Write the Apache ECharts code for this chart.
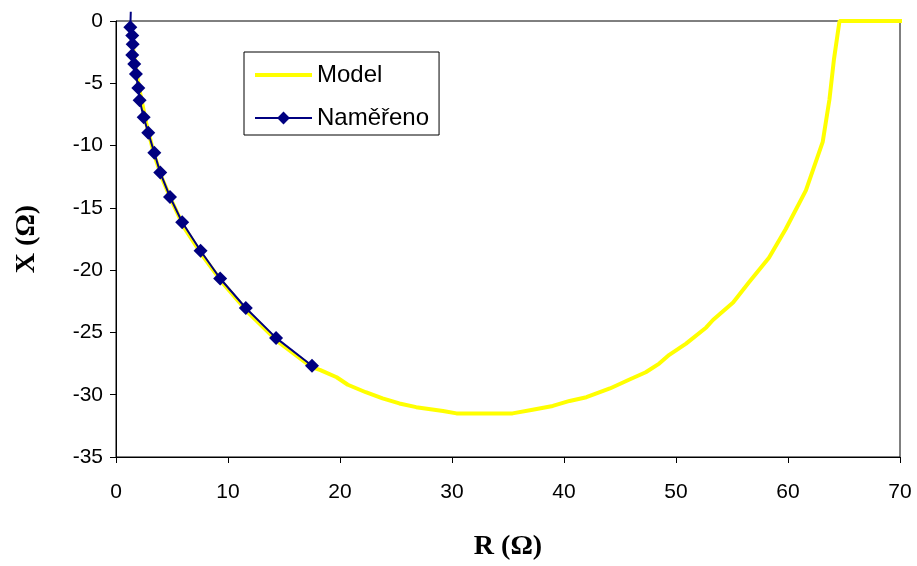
<!DOCTYPE html>
<html>
<head>
<meta charset="utf-8">
<script src="https://cdn.jsdelivr.net/npm/echarts@6/dist/echarts.min.js"></script>
<style>html,body{margin:0;padding:0;background:#fff}#c{width:917px;height:566px}</style>
</head>
<body>
<div id="c"></div>
<script>
// Model curve (R, X)
const modelR = [1.25, 1.5, 1.8, 2.2, 2.7, 3.4, 4.1, 5.0, 6.1, 7.7, 9.5, 11.8, 14.4, 17.5, 18.2, 19.7, 20.7, 22.3, 23.8, 25.3, 26.8, 29.2, 30.4, 35.4, 37.2, 39.0, 40.5, 42.0, 43.2, 44.1, 45.8, 47.3, 48.5, 49.4, 50.9, 52.7, 53.3, 55.1, 56.5, 58.3, 59.8, 61.6, 63.1, 63.7, 64.1, 64.6, 70.6];
const modelX = [-0.4, -2.0, -4.0, -6.0, -8.2, -10.7, -12.6, -14.5, -16.6, -18.8, -21.0, -23.4, -25.7, -27.8, -28.0, -28.6, -29.2, -29.8, -30.3, -30.7, -31.0, -31.3, -31.5, -31.5, -31.2, -30.9, -30.5, -30.2, -29.8, -29.5, -28.8, -28.2, -27.5, -26.8, -25.9, -24.6, -24.0, -22.6, -21.0, -19.0, -16.7, -13.6, -9.7, -6.3, -3.1, 0, 0];
// Measured (Naměřeno)
const measR = [1.32, 1.28, 1.45, 1.49, 1.45, 1.63, 1.78, 1.99, 2.11, 2.47, 2.88, 3.42, 3.95, 4.82, 5.91, 7.55, 9.30, 11.59, 14.29, 17.50];
const measX = [0.75, -0.50, -1.17, -1.86, -2.72, -3.46, -4.26, -5.38, -6.37, -7.73, -8.97, -10.57, -12.17, -14.12, -16.16, -18.44, -20.67, -23.04, -25.44, -27.67];
const xTicks = [0, 10, 20, 30, 40, 50, 60, 70];
const yTicks = [0, -5, -10, -15, -20, -25, -30, -35];

const modelData = modelR.map((r, i) => [r, modelX[i]]);
const measData = measR.map((r, i) => i === 0 ? {value: [r, measX[i]], symbol: 'none'} : [r, measX[i]]);

const chart = echarts.init(document.getElementById('c'));
chart.setOption({
  animation: false,
  backgroundColor: '#fff',
  grid: {left: 116, right: 17, top: 21, bottom: 107, show: true, borderColor: '#000', borderWidth: 1, backgroundColor: 'transparent'},
  legend: {
    left: 244, top: 52, orient: 'vertical',
    backgroundColor: '#fff', borderColor: '#000', borderWidth: 1,
    padding: [11, 10, 5, 9], itemGap: 19, itemWidth: 57, itemHeight: 16,
    textStyle: {fontFamily: 'Liberation Sans', fontSize: 24, color: '#000', padding: [0, 0, 0, 0], lineHeight: 24},
    data: [
      {name: 'Model', itemStyle: {opacity: 0}, lineStyle: {width: 4, color: '#FFFF00'}},
      {name: 'Naměřeno', lineStyle: {width: 2, color: '#000080'}}
    ]
  },
  xAxis: {
    type: 'value', min: Math.min(...xTicks), max: Math.max(...xTicks), interval: 10,
    splitLine: {show: false},
    axisLine: {show: true, onZero: false, lineStyle: {color: '#000', width: 1}},
    axisTick: {show: true, inside: false, length: 6, lineStyle: {color: '#000'}},
    axisLabel: {margin: 25, fontFamily: 'Liberation Sans', fontSize: 21, color: '#000'},
    name: 'R (Ω)', nameLocation: 'middle', nameGap: 76,
    nameTextStyle: {fontFamily: 'Liberation Serif', fontWeight: 'bold', fontSize: 28, color: '#000'}
  },
  yAxis: {
    type: 'value', min: Math.min(...yTicks), max: Math.max(...yTicks), interval: 5,
    splitLine: {show: false},
    axisLine: {show: true, onZero: false, lineStyle: {color: '#000', width: 1}},
    axisTick: {show: true, inside: false, length: 6, lineStyle: {color: '#000'}},
    axisLabel: {margin: 13, fontFamily: 'Liberation Sans', fontSize: 21, color: '#000'},
    name: 'X (Ω)', nameLocation: 'middle', nameGap: 75, nameRotate: 90,
    nameTextStyle: {fontFamily: 'Liberation Serif', fontWeight: 'bold', fontSize: 28, color: '#000'}
  },
  series: [
    {
      name: 'Model', type: 'line', data: modelData, symbol: 'none', clip: false,
      lineStyle: {color: '#FFFF00', width: 4}, itemStyle: {color: '#FFFF00'}
    },
    {
      name: 'Naměřeno', type: 'line', data: measData, symbol: 'diamond', symbolSize: 14, clip: false,
      lineStyle: {color: '#000080', width: 2}, itemStyle: {color: '#000080'}
    }
  ]
});
</script>
</body>
</html>
